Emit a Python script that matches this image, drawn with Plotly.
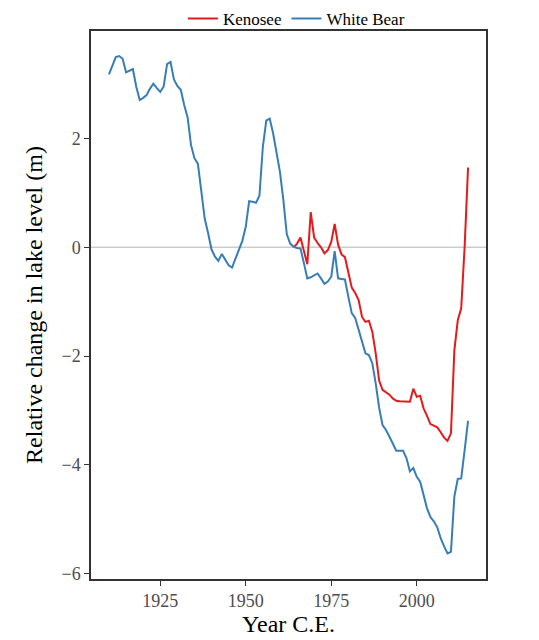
import plotly.graph_objects as go

# annual lake level anomalies (m)
white_bear_years = list(range(1910, 2016))
white_bear_level = [
    3.18, 3.35, 3.50, 3.52, 3.47, 3.22, 3.25, 3.28, 2.95, 2.71,
    2.75, 2.80, 2.92, 3.01, 2.93, 2.86, 2.96, 3.37, 3.41, 3.09,
    2.97, 2.90, 2.62, 2.39, 1.88, 1.64, 1.54, 1.05, 0.53, 0.26,
    -0.04, -0.17, -0.25, -0.12, -0.22, -0.33, -0.37, -0.20, -0.02, 0.12,
    0.38, 0.85, 0.84, 0.82, 0.95, 1.85, 2.33, 2.37, 2.10, 1.73,
    1.39, 0.87, 0.24, 0.07, 0.01, -0.01, -0.02, -0.29, -0.57, -0.55,
    -0.52, -0.48, -0.57, -0.67, -0.63, -0.54, -0.07, -0.57, -0.58, -0.59,
    -0.91, -1.21, -1.30, -1.52, -1.77, -1.95, -1.98, -2.13, -2.50, -2.95,
    -3.27, -3.36, -3.48, -3.62, -3.74, -3.74, -3.74, -3.88, -4.12, -4.06,
    -4.22, -4.31, -4.55, -4.80, -4.96, -5.04, -5.15, -5.35, -5.50, -5.63,
    -5.60, -4.58, -4.26, -4.25, -3.73, -3.19,
]

kenosee_years = list(range(1964, 2016))
kenosee_level = [
    0.00, 0.07, 0.18, -0.08, -0.31, 0.65,
    0.18, 0.08, 0.00, -0.11, -0.05, 0.10, 0.43, 0.05, -0.13, -0.18,
    -0.45, -0.74, -0.84, -0.97, -1.28, -1.37, -1.35, -1.55, -1.95, -2.45,
    -2.62, -2.66, -2.71, -2.78, -2.82, -2.83, -2.83, -2.84, -2.84, -2.60,
    -2.75, -2.73, -2.96, -3.10, -3.25, -3.28, -3.31, -3.40, -3.50, -3.56,
    -3.42, -1.89, -1.34, -1.12, 0.01, 1.47,
]

x_ticks = [1925, 1950, 1975, 2000]
y_ticks = [-6, -4, -2, 0, 2]

fig = go.Figure()

fig.add_hline(y=0, line=dict(color="#cccccc", width=1.5), layer="below")

fig.add_trace(go.Scatter(
    x=kenosee_years, y=kenosee_level, mode="lines", name="Kenosee",
    line=dict(color="#E41A1C", width=2),
))
fig.add_trace(go.Scatter(
    x=white_bear_years, y=white_bear_level, mode="lines", name="White Bear",
    line=dict(color="#377EB8", width=2),
))

axis_common = dict(
    showgrid=False, zeroline=False,
    showline=True, linecolor="#333333", linewidth=1.5, mirror=True,
    ticks="outside", ticklen=5, tickwidth=1.2, tickcolor="#333333",
    tickfont=dict(family="Liberation Serif", size=18, color="#4d4d4d"),
)

fig.update_xaxes(
    range=[1904.75, 2020.25], tickvals=x_ticks,
    title=dict(text="Year C.E.", font=dict(family="Liberation Serif", size=24, color="black"), standoff=4),
    **axis_common,
)
fig.update_yaxes(
    range=[-6.1, 3.98], tickvals=y_ticks,
    title=dict(text="Relative change in lake level (m)", font=dict(family="Liberation Serif", size=24, color="black"), standoff=12),
    **axis_common,
)

# page body has an 8px margin, so the figure is a bit smaller than the window
fig.update_layout(
    width=531, height=632,
    margin=dict(l=83, r=53, t=23, b=61, autoexpand=False),
    paper_bgcolor="white", plot_bgcolor="white",
    font=dict(family="Liberation Serif"),
    showlegend=True,
    legend=dict(
        orientation="h", x=0.52, xanchor="center", y=1.022, yanchor="middle",
        font=dict(family="Liberation Serif", size=17, color="black"),
        bgcolor="rgba(0,0,0,0)", itemwidth=30,
    ),
)

fig.write_html("out.html")
